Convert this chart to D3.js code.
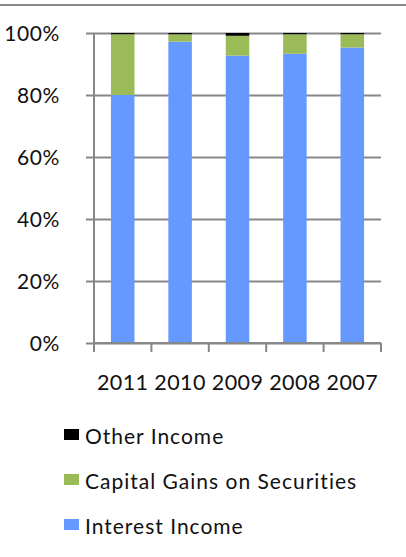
<!DOCTYPE html>
<html>
<head>
<meta charset="utf-8">
<script src="https://cdn.jsdelivr.net/npm/d3@7"></script>
<style>
  body { margin: 0; background: #fff; }
  text { font-family: Lato, "Open Sans", sans-serif; fill: #111; }
</style>
</head>
<body>
<div id="chart"></div>
<script>
// data (share of total income, %)
const years = ["2011", "2010", "2009", "2008", "2007"];
const interestIncome = [80.0, 97.2, 92.7, 93.3, 95.3];
const capitalGains = [19.6, 2.4, 6.4, 6.3, 4.3];
const otherIncome = [0.4, 0.4, 0.9, 0.4, 0.4];
const seriesNames = ["Interest Income", "Capital Gains on Securities", "Other Income"];
const yTicks = [0, 20, 40, 60, 80, 100];

const width = 406, height = 557;
const plot = { left: 94, right: 381, top: 33, bottom: 343 };

const svg = d3.select("#chart")
    .append("svg")
    .attr("width", width)
    .attr("height", height);

// top border line
svg.append("line")
    .attr("x1", 0).attr("x2", width)
    .attr("y1", 5).attr("y2", 5)
    .attr("stroke", "#878787")
    .attr("stroke-width", 2);

const x = d3.scaleBand()
    .domain(years)
    .range([plot.left, plot.right])
    .paddingInner(0.59)
    .paddingOuter(0.295);

const y = d3.scaleLinear()
    .domain([0, 100])
    .range([plot.bottom, plot.top]);

const color = d3.scaleOrdinal()
    .domain(seriesNames)
    .range(["#6699FF", "#9BBB59", "#000000"]);

// gridlines + y labels
const yAxis = svg.append("g")
    .attr("transform", `translate(${plot.left},0)`)
    .call(d3.axisLeft(y).tickValues(yTicks).tickFormat(d => d + "%").tickSize(8).tickPadding(26));
yAxis.select(".domain").remove();
yAxis.selectAll(".tick line")
    .attr("x2", plot.right - plot.left)
    .attr("x1", -8)
    .attr("stroke", "#878787")
    .attr("stroke-width", 2);
yAxis.selectAll(".tick text")
    .attr("font-size", 21)
    .attr("font-family", "Lato, sans-serif")
    .attr("letter-spacing", "0.6px")
    .attr("fill", "#111")
    .attr("dy", "0.38em");

// y axis line
svg.append("line")
    .attr("x1", plot.left).attr("x2", plot.left)
    .attr("y1", plot.top).attr("y2", plot.bottom)
    .attr("stroke", "#878787")
    .attr("stroke-width", 2);

// stacked bars
const table = years.map((yr, i) => ({
    year: yr,
    "Interest Income": interestIncome[i],
    "Capital Gains on Securities": capitalGains[i],
    "Other Income": otherIncome[i]
}));
const stacked = d3.stack().keys(seriesNames)(table);

svg.append("g")
    .selectAll("g")
    .data(stacked)
    .join("g")
    .attr("fill", d => color(d.key))
    .selectAll("rect")
    .data(d => d)
    .join("rect")
    .attr("x", d => x(d.data.year))
    .attr("y", d => y(d[1]))
    .attr("width", x.bandwidth())
    .attr("height", d => y(d[0]) - y(d[1]));

// x axis
const xAxis = svg.append("g")
    .attr("transform", `translate(0,${plot.bottom})`)
    .call(d3.axisBottom(x).tickSize(0).tickPadding(32));
xAxis.select(".domain")
    .attr("d", `M${plot.left},0H${plot.right}`)
    .attr("stroke", "#878787")
    .attr("stroke-width", 2);
xAxis.selectAll(".tick text")
    .attr("font-size", 21.5)
    .attr("font-family", "Lato, sans-serif")
    .attr("letter-spacing", "0.4px")
    .attr("fill", "#111")
    .attr("dy", "0.71em");

// category boundary ticks
const step = x.step();
const boundaries = d3.range(years.length + 1).map(i => plot.left + i * step);
xAxis.selectAll(".bound")
    .data(boundaries)
    .join("line")
    .attr("x1", d => d).attr("x2", d => d)
    .attr("y1", 0).attr("y2", 9)
    .attr("stroke", "#878787")
    .attr("stroke-width", 2);

// legend
const legendItems = ["Other Income", "Capital Gains on Securities", "Interest Income"];
const legend = svg.append("g")
    .attr("transform", "translate(64,437)");

legendItems.forEach((name, i) => {
    const yOff = i * 45;
    legend.append("rect")
        .attr("x", 0)
        .attr("y", yOff - 8)
        .attr("width", 15)
        .attr("height", 11)
        .attr("fill", color(name));
    legend.append("text")
        .attr("x", 21)
        .attr("y", yOff + 7)
        .attr("font-size", 21)
        .attr("letter-spacing", "1px")
        .text(name);
});
</script>
</body>
</html>
